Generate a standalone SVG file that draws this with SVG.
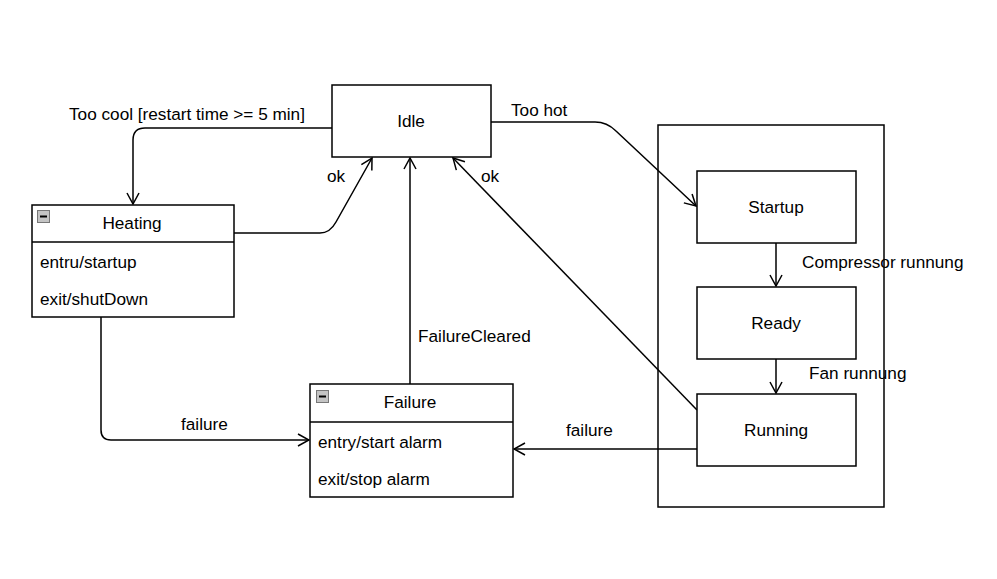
<svg xmlns="http://www.w3.org/2000/svg" width="997" height="579" viewBox="0 0 997 579">
<style>
  .box{fill:#fff;stroke:#000;stroke-width:1.5}
  .ln{fill:none;stroke:#000;stroke-width:1.5}
  text{font-family:"Liberation Sans",Arial,sans-serif;font-size:17.2px;fill:#000}
  .c{text-anchor:middle}
  .icon{fill:#c4c4c4;stroke:#777;stroke-width:1}
</style>
<defs>
  <marker id="arr" viewBox="0 0 14 14" refX="13" refY="7" markerWidth="14" markerHeight="14" markerUnits="userSpaceOnUse" orient="auto">
    <path d="M2,1 L13,7 L2,13" fill="none" stroke="#000" stroke-width="1.5"/>
  </marker>
</defs>
<rect width="997" height="579" fill="#fff"/>

<g id="container"><rect class="box" x="658" y="125" width="226" height="382"/></g>

<g id="connectors">
  <path class="ln" d="M332,128 H145 Q133,128 133,140 V204" marker-end="url(#arr)"/>
  <path class="ln" d="M234,233 H320 Q330,233 336,222 L372,158" marker-end="url(#arr)"/>
  <path class="ln" d="M410,384 V158" marker-end="url(#arr)"/>
  <path class="ln" d="M697,410 L453,158" marker-end="url(#arr)"/>
  <path class="ln" d="M491,122 H595 Q607,122 616,131 L696,206" marker-end="url(#arr)"/>
  <path class="ln" d="M776,243 V286" marker-end="url(#arr)"/>
  <path class="ln" d="M776,359 V393" marker-end="url(#arr)"/>
  <path class="ln" d="M697,449 H514" marker-end="url(#arr)"/>
  <path class="ln" d="M101,317 V430 Q101,440 111,440 H309" marker-end="url(#arr)"/>
  <text x="69" y="120">Too cool [restart time &gt;= 5 min]</text>
  <text x="327" y="182">ok</text>
  <text x="418" y="342">FailureCleared</text>
  <text x="481" y="182">ok</text>
  <text x="511" y="116">Too hot</text>
  <text x="802" y="268">Compressor runnung</text>
  <text x="809" y="379">Fan runnung</text>
  <text x="566" y="436">failure</text>
  <text x="181" y="430">failure</text>
</g>

<g id="idle"><rect class="box" x="332" y="85" width="159" height="72"/><text class="c" x="411" y="127">Idle</text></g>

<g id="heating">
  <rect class="box" x="32" y="205" width="202" height="112"/>
  <line class="ln" x1="32" y1="242" x2="234" y2="242"/>
  <rect class="icon" x="37.5" y="210.5" width="12" height="12"/>
  <line x1="40" y1="216.5" x2="47" y2="216.5" stroke="#000" stroke-width="2"/>
  <text class="c" x="132" y="229">Heating</text>
  <text x="40" y="268">entru/startup</text>
  <text x="40" y="305">exit/shutDown</text>
</g>

<g id="failure">
  <rect class="box" x="310" y="384" width="203" height="113"/>
  <line class="ln" x1="310" y1="422" x2="513" y2="422"/>
  <rect class="icon" x="316.5" y="390.5" width="12" height="12"/>
  <line x1="319" y1="396.5" x2="326" y2="396.5" stroke="#000" stroke-width="2"/>
  <text class="c" x="410" y="408">Failure</text>
  <text x="318" y="448">entry/start alarm</text>
  <text x="318" y="485">exit/stop alarm</text>
</g>

<g id="startup"><rect class="box" x="697" y="171" width="159" height="72"/><text class="c" x="776" y="213">Startup</text></g>
<g id="ready"><rect class="box" x="697" y="287" width="159" height="72"/><text class="c" x="776" y="329">Ready</text></g>
<g id="running"><rect class="box" x="697" y="394" width="159" height="72"/><text class="c" x="776" y="436">Running</text></g>
</svg>
